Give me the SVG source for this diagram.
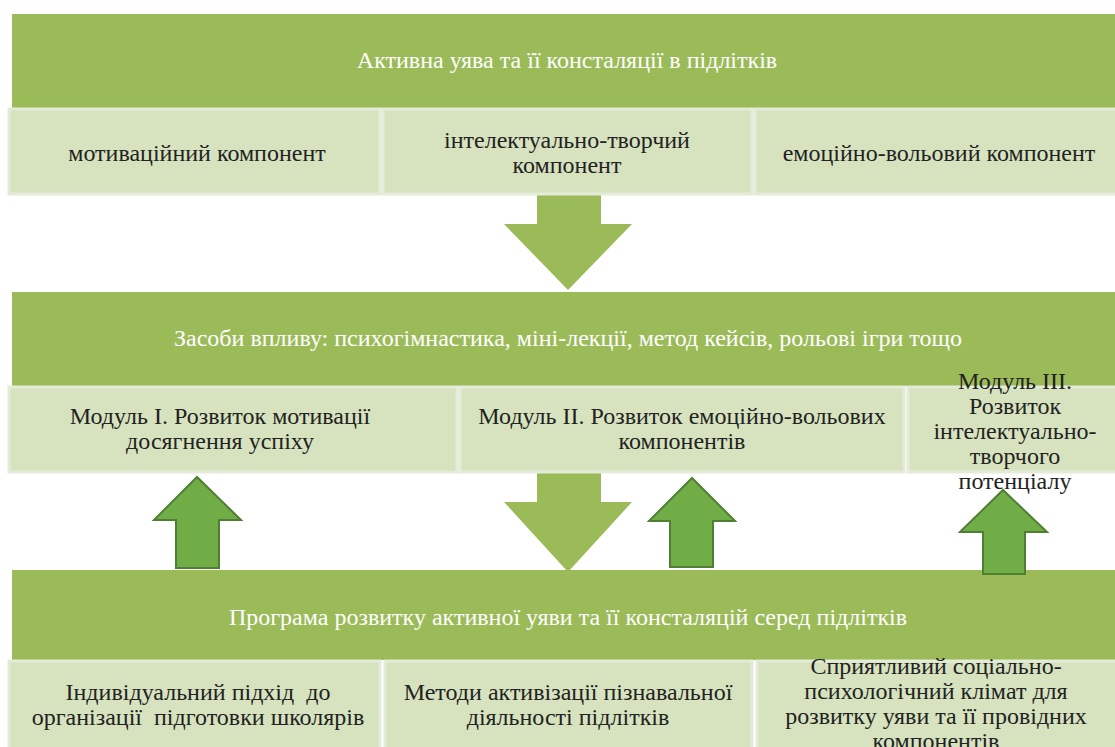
<svg xmlns="http://www.w3.org/2000/svg" width="1115" height="747" viewBox="0 0 1115 747">
<style>
.band{fill:#9bbb59}
.cell{fill:#d7e3bf;stroke:#e4ebd8;stroke-width:3}
.down{fill:#9bbb59}
.up{fill:#70ad47;stroke:#507e32;stroke-width:2}
.wt{font-family:"Liberation Serif",serif;font-size:24px;fill:#ffffff;text-anchor:middle}
.dt{font-family:"Liberation Serif",serif;font-size:24px;fill:#222222;text-anchor:middle}
.pre{white-space:pre}
</style>
<rect width="1115" height="747" fill="#ffffff"/>
<g id="connectors">
<polygon class="down" points="537,195 601,195 601,224 632,224 568,290 504,224 537,224"/>
<polygon class="down" points="537,472 601,472 601,502 632,502 568,572 504,502 537,502"/>
</g>
<g id="band1">
<rect class="band" x="12" y="14" width="1103" height="94"/>
<text class="wt" x="567" y="68">Активна уява та її консталяції в підлітків</text>
</g>
<g id="c1a"><rect class="cell" x="9" y="109" width="371" height="85"/><text class="dt" x="197" y="161">мотиваційний компонент</text></g>
<g id="c1b"><rect class="cell" x="383" y="109" width="369" height="85"/><text class="dt" x="567" y="148">інтелектуально-творчий</text><text class="dt" x="567" y="173">компонент</text></g>
<g id="c1c"><rect class="cell" x="755" y="109" width="362" height="85"/><text class="dt" x="939" y="161">емоційно-вольовий компонент</text></g>
<g id="band2">
<rect class="band" x="12" y="292" width="1103" height="94"/>
<text class="wt" x="568" y="346">Засоби впливу: психогімнастика, міні-лекції, метод кейсів, рольові ігри тощо</text>
</g>
<g id="c2a"><rect class="cell" x="9" y="387" width="448" height="85"/><text class="dt" x="220" y="424">Модуль I. Розвиток мотивації</text><text class="dt" x="220" y="449">досягнення успіху</text></g>
<g id="c2b"><rect class="cell" x="460" y="387" width="444" height="85"/><text class="dt" x="682" y="424">Модуль II. Розвиток емоційно-вольових</text><text class="dt" x="682" y="449">компонентів</text></g>
<g id="c2c"><rect class="cell" x="908" y="387" width="209" height="85"/><text class="dt" x="1015" y="389">Модуль III.</text><text class="dt" x="1015" y="414">Розвиток</text><text class="dt" x="1015" y="439">інтелектуально-</text><text class="dt" x="1015" y="464">творчого</text><text class="dt" x="1015" y="489">потенціалу</text></g>
<g id="band3">
<rect class="band" x="12" y="570" width="1103" height="90"/>
<text class="wt" x="568" y="625">Програма розвитку активної уяви та її консталяцій серед підлітків</text>
</g>
<g id="c3a"><rect class="cell" x="9" y="661" width="371" height="90"/><text class="dt pre" x="198" y="700" xml:space="preserve">Індивідуальний підхід  до</text><text class="dt pre" x="198" y="725" xml:space="preserve">організації  підготовки школярів</text></g>
<g id="c3b"><rect class="cell" x="385" y="661" width="367" height="90"/><text class="dt" x="568" y="700">Методи активізації пізнавальної</text><text class="dt" x="568" y="725">діяльності підлітків</text></g>
<g id="c3c"><rect class="cell" x="757" y="661" width="360" height="90"/><text class="dt" x="936" y="674">Сприятливий соціально-</text><text class="dt" x="936" y="699">психологічний клімат для</text><text class="dt" x="936" y="724">розвитку уяви та її провідних</text><text class="dt" x="936" y="749">компонентів</text></g>
<g id="up-arrows">
<polygon class="up" points="176,568 219,568 219,520 241,520 197,477 154,520 176,520"/>
<polygon class="up" points="670,567 713,567 713,521 735,521 692,478 649,521 670,521"/>
<polygon class="up" points="983,574 1025,574 1025,532 1047,532 1003,490 960,532 983,532"/>
</g>
</svg>
